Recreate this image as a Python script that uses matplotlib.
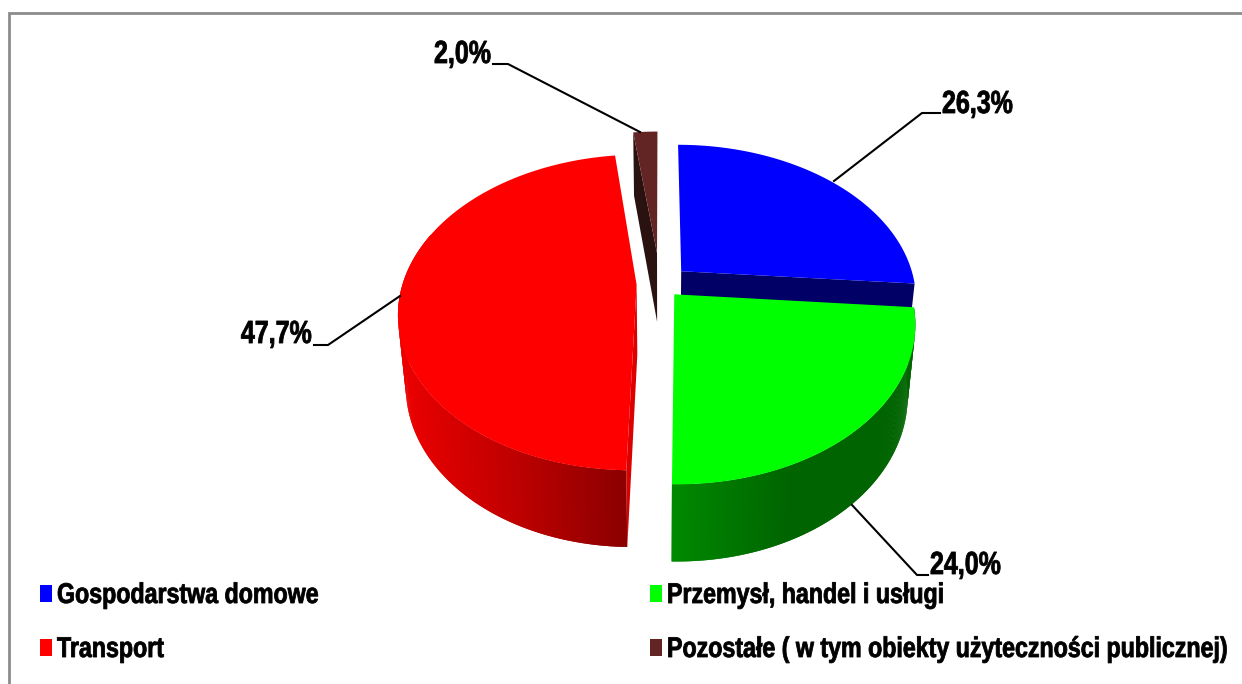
import numpy as np
import matplotlib
matplotlib.use("Agg")
import matplotlib.pyplot as plt
from matplotlib.colors import to_rgb
from matplotlib.patches import Polygon, Rectangle
from matplotlib.patheffects import AbstractPathEffect
from matplotlib.transforms import Affine2D

# data
categories = ["Gospodarstwa domowe", "Przemysł, handel i usługi", "Transport",
              "Pozostałe ( w tym obiekty użyteczności publicznej)"]
shares = [26.3, 24.0, 47.7, 2.0]
share_labels = ["26,3%", "24,0%", "47,7%", "2,0%"]
top_colors = ["#0000ff", "#00ff00", "#ff0000", "#632523"]
side_colors = ["#000066", "#006400", "#dd0000", "#2a1210"]
explode = [0.125, 0.09, 0.10, 0.21]

# fake 3d projection of the pie disc
CX, CY = 660, 284
RX, RY, K = 234, 152.7, 0.175
DEPTH = 70
BOTTOM_SHRINK = 0.97
FONT = "Liberation Sans"


class TallText(AbstractPathEffect):
    """Stretch glyphs upward from the baseline, the original font is a narrow one."""

    def __init__(self, factor, stroke=0.6):
        super().__init__()
        self.factor = factor
        self.stroke = stroke

    def draw_path(self, renderer, gc, tpath, affine, rgbFace=None):
        gc0 = renderer.new_gc()
        gc0.copy_properties(gc)
        gc0.set_linewidth(self.stroke)
        renderer.draw_path(gc0, tpath, Affine2D().scale(1, self.factor) + affine, rgbFace)
        gc0.restore()


def project(x, y, drop=0.0):
    w = 1 + K * y
    sx = CX + RX * x / w * (1 - (1 - BOTTOM_SHRINK) * drop)
    sy = CY - RY * y / w + drop * DEPTH / (1 + 0.5 * K * y)
    return np.column_stack([sx, sy])


fig = plt.figure(figsize=(12.42, 6.84), dpi=100)
ax = fig.add_axes([0, 0, 1, 1])
ax.set_xlim(0, 1242)
ax.set_ylim(684, 0)
ax.axis("off")

# chart frame, only top and left show
ax.plot([9, 9, 1242], [684, 13, 13], color="#8c8c8c", lw=2, solid_joinstyle="miter")

bounds = np.cumsum([0] + shares) / sum(shares) * 2 * np.pi


def wedge_parts(i):
    mid = (bounds[i] + bounds[i + 1]) / 2
    ox, oy = explode[i] * np.sin(mid), explode[i] * np.cos(mid)
    t = np.linspace(bounds[i], bounds[i + 1], 240)
    return ox, oy, t


def draw_outer_wall(i, shade):
    ox, oy, t = wedge_parts(i)
    # start a bit behind the widest point, the top face hides the rest
    t = t[np.cos(t) < 0.35]
    xs, ys = ox + np.sin(t), oy + np.cos(t)
    top = project(xs, ys)
    bot = project(xs, ys, 1.0)
    xmin, xmax = top[:, 0].min(), top[:, 0].max()
    for j in range(len(t) - 1):
        # each strip overlaps the next one so no seams show
        k = min(j + 2, len(t) - 1)
        col = shade((top[j, 0] - xmin) / max(xmax - xmin, 1))
        ax.add_patch(Polygon([top[j], top[k], bot[k], bot[j]], closed=True,
                             fc=col, ec="none", zorder=2 + i))


def draw_top(i):
    ox, oy, t = wedge_parts(i)
    rim = project(ox + np.sin(t), oy + np.cos(t))
    apex = project(np.array([ox]), np.array([oy]))
    ax.add_patch(Polygon(np.vstack([apex, rim]), closed=True, fc=top_colors[i],
                         ec="none", zorder=10 + i))


def draw_radial(i, angle):
    ox, oy, _ = wedge_parts(i)
    xs = np.array([ox, ox + np.sin(angle)])
    ys = np.array([oy, oy + np.cos(angle)])
    a = project(xs, ys)
    b = project(xs, ys, 1.0)
    ax.add_patch(Polygon([a[0], a[1], b[1], b[0]], closed=True, fc=side_colors[i],
                         ec="none", zorder=1 + i))


def blend(c0, c1, c2):
    c0, c1, c2 = map(np.array, (to_rgb(c0), to_rgb(c1), to_rgb(c2)))

    def f(v):
        if v < 0.5:
            return tuple(c0 + (c1 - c0) * v * 2)
        return tuple(c1 + (c2 - c1) * (v - 0.5) * 2)
    return f


# brown sliver: inner face toward the viewer
draw_radial(3, bounds[3])
# blue: dark face along its lower edge, green covers most of it
draw_radial(0, bounds[1])
# red: thin edge at the cut
draw_radial(2, bounds[2])

draw_outer_wall(1, blend("#008a00", "#006400", "#006400"))
draw_outer_wall(2, blend("#ec0000", "#c00000", "#8b0000"))
for i in range(4):
    draw_top(i)

# leader lines
leaders = [
    ([940, 922, 834], [113, 113, 181]),
    ([928, 917, 852], [575, 575, 505]),
    ([314, 328, 400], [345, 345, 296]),
    ([493, 508, 640], [64, 64, 132]),
]
for lx, ly in leaders:
    ax.plot(lx, ly, color="black", lw=1.5, zorder=20)

label_pos = [(942, 113, "left"), (930, 574, "left"), (312, 343, "right"), (491, 63, "right")]
for txt, (x, y, ha) in zip(share_labels, label_pos):
    ax.text(x, y, txt, ha=ha, va="baseline", fontsize=18, fontweight="bold", family=FONT,
            color="black", zorder=21, path_effects=[TallText(1.28)])

# legend
legend_pos = [(40, 603), (650, 603), (40, 657), (650, 657)]
for name, col, (x, y) in zip(categories, top_colors, legend_pos):
    ax.add_patch(Rectangle((x, y - 18), 12, 17, fc=col, ec="none", zorder=21))
    ax.text(x + 17, y, name, ha="left", va="baseline", fontsize=16.7, fontweight="bold",
            family=FONT, color="black", zorder=21, path_effects=[TallText(1.23)])

fig.savefig("out.png", dpi=100)
